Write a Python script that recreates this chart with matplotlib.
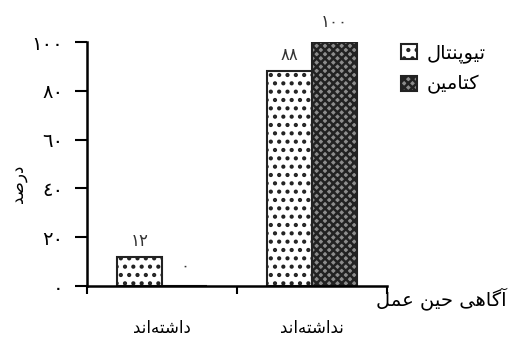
import matplotlib
matplotlib.use("Agg")
import matplotlib.pyplot as plt
import numpy as np

# ---------------------------------------------------------------
# DATA
# ---------------------------------------------------------------
categories = ["داشته‌اند", "نداشته‌اند"]
series_names = ["تیوپنتال", "کتامین"]
thiopental = [12, 88]
ketamine = [0, 100]
y_ticks = [0, 20, 40, 60, 80, 100]
x_title = "آگاهی حین عمل"
y_title = "درصد"

# ---------------------------------------------------------------
# minimal Persian shaping (matplotlib has no complex text layout)
# forms: isolated, final, initial, medial
# ---------------------------------------------------------------
FORMS = {
    "ا": (0xFE8D, 0xFE8E), "آ": (0xFE81, 0xFE82),
    "د": (0xFEA9, 0xFEAA), "ر": (0xFEAD, 0xFEAE), "و": (0xFEED, 0xFEEE),
    "ت": (0xFE95, 0xFE96, 0xFE97, 0xFE98), "ح": (0xFEA1, 0xFEA2, 0xFEA3, 0xFEA4),
    "ش": (0xFEB5, 0xFEB6, 0xFEB7, 0xFEB8), "ص": (0xFEB9, 0xFEBA, 0xFEBB, 0xFEBC),
    "ع": (0xFEC9, 0xFECA, 0xFECB, 0xFECC), "ل": (0xFEDD, 0xFEDE, 0xFEDF, 0xFEE0),
    "م": (0xFEE1, 0xFEE2, 0xFEE3, 0xFEE4), "ن": (0xFEE5, 0xFEE6, 0xFEE7, 0xFEE8),
    "ه": (0xFEE9, 0xFEEA, 0xFEEB, 0xFEEC), "ی": (0xFBFC, 0xFBFD, 0xFBFE, 0xFBFF),
    "پ": (0xFB56, 0xFB57, 0xFB58, 0xFB59), "ک": (0xFB8E, 0xFB8F, 0xFB90, 0xFB91),
    "گ": (0xFB92, 0xFB93, 0xFB94, 0xFB95),
}


def shape(text):
    out = []
    for i, ch in enumerate(text):
        if ch not in FORMS:
            if ch != "\u200c":
                out.append(ch)
            continue
        prev = text[i - 1] if i > 0 else ""
        nxt = text[i + 1] if i + 1 < len(text) else ""
        f = FORMS[ch]
        jp = prev in FORMS and len(FORMS[prev]) == 4
        jn = len(f) == 4 and nxt in FORMS
        if jp and jn:
            k = 3
        elif jp:
            k = 1
        elif jn:
            k = 2
        else:
            k = 0
        out.append(chr(f[k]))
    return "".join(reversed(out))


def fa_num(n):
    return "".join(chr(0x0660 + int(d)) for d in str(n))


plt.rcParams["font.family"] = ["DejaVu Sans"]
plt.rcParams["hatch.linewidth"] = 1.8

fig = plt.figure(figsize=(5.1, 3.39), dpi=100)
ax = fig.add_axes([87 / 510, 1 - 286 / 339, 300 / 510, 244 / 339])

x = np.arange(len(categories)) + 0.5
w = 0.3
b1 = ax.bar(x - w / 2, thiopental, w, facecolor="white", edgecolor="#222222",
            hatch="..", linewidth=1.5, label=shape(series_names[0]))
b2 = ax.bar(x + w / 2, ketamine, w, facecolor="#8c8c8c", edgecolor="#222222",
            hatch="xxxx", linewidth=1.5, label=shape(series_names[1]))

ax.bar_label(b1, labels=[fa_num(v) for v in thiopental], padding=5, fontsize=12, color="#333333")
ax.bar_label(b2, labels=[fa_num(v) for v in ketamine], padding=8, fontsize=12, color="#333333")

ax.set_xlim(0, 2)
ax.set_ylim(0, 100)
ax.set_yticks(y_ticks)
ax.set_yticklabels([fa_num(v) for v in y_ticks], fontsize=14)
ax.set_xticks([0, 1, 2])
ax.set_xticklabels([])
ax.set_xticks(x, minor=True)
ax.set_xticklabels([shape(c) for c in categories], minor=True, fontsize=12)
ax.tick_params(axis="x", which="minor", length=0, pad=24)
ax.tick_params(axis="x", which="major", length=6, width=1.5, direction="out")
ax.tick_params(axis="y", length=9, width=1.5, direction="out", pad=8)

for s in ["top", "right"]:
    ax.spines[s].set_visible(False)
for s in ["left", "bottom"]:
    ax.spines[s].set_linewidth(1.8)

fig.text(18 / 510, 1 - 184 / 339, shape(y_title), fontsize=12, rotation=90, ha="center", va="center")
fig.text(441 / 510, 1 - 299 / 339, shape(x_title), fontsize=14, ha="center", va="center")

ax.legend(loc="upper left", bbox_to_anchor=(384 / 510, 1 - 26 / 339), bbox_transform=fig.transFigure,
          frameon=False, fontsize=14, handlelength=0.8, handleheight=0.8,
          labelspacing=0.6, handletextpad=0.5)

fig.savefig("out.png", dpi=100)
